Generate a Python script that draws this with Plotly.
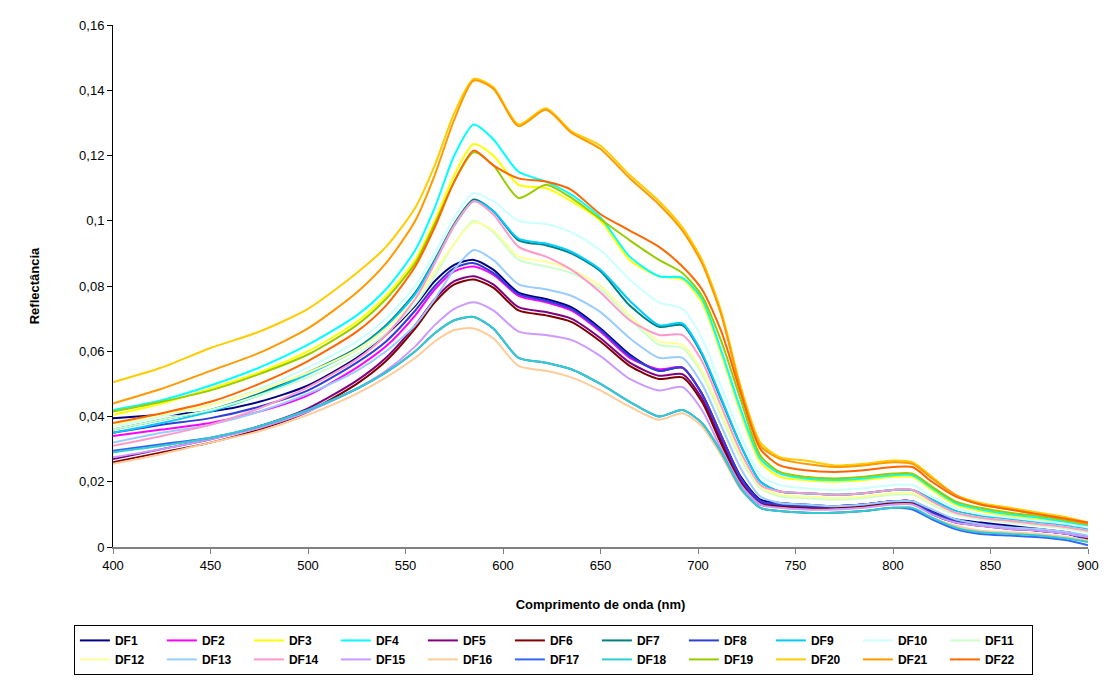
import plotly.graph_objects as go

# Wavelength sampling (nm)
wavelength = [400, 425, 450, 475, 500, 525, 540, 555, 565, 575, 585, 595, 608, 622, 635, 650,
              665, 680, 692, 702, 712, 722, 732, 742, 755, 770, 785, 800, 810, 820, 832, 845,
              860, 875, 890, 900]

# Reflectance spectra per sample
DF1 = [0.0395, 0.0405, 0.0415, 0.0445, 0.0495, 0.058, 0.065, 0.074, 0.0815, 0.0865, 0.088, 0.085, 0.078, 0.076, 0.0735, 0.067, 0.059, 0.054, 0.055, 0.047, 0.034, 0.0215, 0.0145, 0.0135, 0.013, 0.0125, 0.013, 0.014, 0.014, 0.011, 0.0085, 0.0075, 0.0065, 0.0055, 0.0045, 0.003]
DF2 = [0.034, 0.036, 0.038, 0.0415, 0.0465, 0.055, 0.0615, 0.071, 0.079, 0.0845, 0.086, 0.0835, 0.077, 0.075, 0.0725, 0.066, 0.058, 0.0545, 0.055, 0.047, 0.034, 0.021, 0.014, 0.013, 0.0125, 0.0125, 0.013, 0.014, 0.014, 0.0105, 0.008, 0.007, 0.006, 0.005, 0.004, 0.0025]
DF3 = [0.0405, 0.044, 0.0485, 0.0535, 0.060, 0.069, 0.077, 0.088, 0.100, 0.114, 0.1235, 0.120, 0.111, 0.110, 0.106, 0.100, 0.088, 0.083, 0.082, 0.075, 0.059, 0.041, 0.026, 0.0215, 0.0205, 0.020, 0.0205, 0.0215, 0.0215, 0.0175, 0.013, 0.011, 0.0095, 0.0085, 0.007, 0.006]
DF4 = [0.042, 0.045, 0.0495, 0.055, 0.062, 0.071, 0.079, 0.091, 0.104, 0.120, 0.1295, 0.125, 0.115, 0.112, 0.108, 0.101, 0.089, 0.083, 0.0825, 0.076, 0.060, 0.042, 0.027, 0.0225, 0.021, 0.0205, 0.021, 0.022, 0.022, 0.018, 0.0135, 0.0115, 0.010, 0.009, 0.0075, 0.0065]
DF5 = [0.027, 0.030, 0.033, 0.037, 0.0425, 0.051, 0.058, 0.068, 0.076, 0.0815, 0.083, 0.0805, 0.0735, 0.072, 0.070, 0.064, 0.0565, 0.0525, 0.053, 0.0455, 0.0325, 0.020, 0.0135, 0.013, 0.0125, 0.0125, 0.013, 0.014, 0.014, 0.0105, 0.008, 0.007, 0.006, 0.005, 0.004, 0.003]
DF6 = [0.026, 0.029, 0.032, 0.036, 0.0415, 0.050, 0.057, 0.067, 0.075, 0.0805, 0.082, 0.0795, 0.0725, 0.071, 0.069, 0.063, 0.0555, 0.0515, 0.052, 0.0445, 0.0315, 0.0195, 0.013, 0.0125, 0.012, 0.012, 0.0125, 0.0135, 0.0135, 0.010, 0.0075, 0.0065, 0.0055, 0.005, 0.004, 0.0025]
DF7 = [0.036, 0.039, 0.042, 0.047, 0.0535, 0.061, 0.068, 0.078, 0.088, 0.099, 0.1065, 0.103, 0.094, 0.0925, 0.090, 0.0845, 0.074, 0.0675, 0.068, 0.059, 0.045, 0.031, 0.020, 0.017, 0.0165, 0.016, 0.0165, 0.0175, 0.0175, 0.0145, 0.011, 0.0095, 0.0085, 0.0075, 0.0065, 0.0055]
DF8 = [0.035, 0.0375, 0.0395, 0.043, 0.048, 0.0565, 0.063, 0.0725, 0.080, 0.0855, 0.087, 0.084, 0.0775, 0.0755, 0.073, 0.0665, 0.0585, 0.054, 0.055, 0.047, 0.034, 0.021, 0.014, 0.013, 0.0125, 0.0125, 0.013, 0.014, 0.014, 0.0105, 0.008, 0.007, 0.006, 0.005, 0.004, 0.002]
DF9 = [0.035, 0.038, 0.0415, 0.0465, 0.053, 0.0605, 0.0675, 0.0775, 0.0875, 0.0985, 0.106, 0.103, 0.0945, 0.093, 0.0905, 0.085, 0.0755, 0.068, 0.0685, 0.0595, 0.0455, 0.031, 0.020, 0.017, 0.0165, 0.016, 0.0165, 0.0175, 0.0175, 0.0145, 0.011, 0.0095, 0.0085, 0.0075, 0.0065, 0.0055]
DF10 = [0.037, 0.040, 0.0435, 0.0485, 0.055, 0.063, 0.070, 0.080, 0.090, 0.101, 0.1085, 0.106, 0.100, 0.099, 0.0965, 0.091, 0.082, 0.075, 0.073, 0.064, 0.049, 0.034, 0.022, 0.019, 0.018, 0.0175, 0.018, 0.019, 0.019, 0.0155, 0.012, 0.010, 0.009, 0.008, 0.007, 0.006]
DF11 = [0.036, 0.039, 0.042, 0.0465, 0.052, 0.059, 0.0655, 0.0745, 0.083, 0.093, 0.100, 0.0965, 0.088, 0.086, 0.084, 0.079, 0.070, 0.062, 0.061, 0.053, 0.040, 0.027, 0.018, 0.0155, 0.015, 0.0145, 0.015, 0.016, 0.016, 0.013, 0.010, 0.0085, 0.0075, 0.0065, 0.0055, 0.0045]
DF12 = [0.0375, 0.0405, 0.0435, 0.048, 0.0535, 0.0605, 0.067, 0.076, 0.0845, 0.093, 0.0995, 0.097, 0.089, 0.0875, 0.085, 0.080, 0.071, 0.063, 0.062, 0.054, 0.041, 0.028, 0.0185, 0.016, 0.0155, 0.015, 0.0155, 0.0165, 0.0165, 0.0135, 0.0105, 0.009, 0.008, 0.007, 0.006, 0.005]
DF13 = [0.032, 0.035, 0.0375, 0.0415, 0.047, 0.054, 0.060, 0.068, 0.076, 0.085, 0.091, 0.088, 0.0805, 0.079, 0.077, 0.072, 0.064, 0.058, 0.058, 0.050, 0.037, 0.024, 0.0155, 0.0135, 0.013, 0.0125, 0.013, 0.014, 0.014, 0.0115, 0.0085, 0.007, 0.006, 0.0055, 0.0045, 0.0035]
DF14 = [0.031, 0.034, 0.0375, 0.0425, 0.049, 0.0575, 0.065, 0.076, 0.087, 0.0985, 0.106, 0.102, 0.092, 0.089, 0.085, 0.078, 0.0695, 0.065, 0.065, 0.057, 0.043, 0.029, 0.019, 0.017, 0.0165, 0.016, 0.0165, 0.0175, 0.0175, 0.014, 0.0105, 0.009, 0.008, 0.007, 0.006, 0.005]
DF15 = [0.0275, 0.030, 0.033, 0.0365, 0.0415, 0.0485, 0.054, 0.0615, 0.068, 0.073, 0.075, 0.0725, 0.066, 0.065, 0.0635, 0.0585, 0.0515, 0.048, 0.049, 0.042, 0.030, 0.019, 0.013, 0.012, 0.0115, 0.0115, 0.012, 0.013, 0.013, 0.010, 0.0075, 0.0065, 0.0055, 0.005, 0.004, 0.003]
DF16 = [0.0255, 0.0285, 0.032, 0.0355, 0.0405, 0.047, 0.052, 0.058, 0.063, 0.0665, 0.067, 0.064, 0.0555, 0.054, 0.052, 0.048, 0.043, 0.039, 0.041, 0.037, 0.028, 0.0175, 0.012, 0.011, 0.0105, 0.0105, 0.011, 0.012, 0.012, 0.009, 0.0065, 0.005, 0.0045, 0.004, 0.003, 0.002]
DF17 = [0.0295, 0.0315, 0.0335, 0.037, 0.042, 0.0485, 0.0535, 0.060, 0.0655, 0.0695, 0.0705, 0.067, 0.058, 0.0565, 0.0545, 0.050, 0.0445, 0.040, 0.042, 0.038, 0.029, 0.018, 0.012, 0.011, 0.0105, 0.0105, 0.011, 0.012, 0.0115, 0.0085, 0.0055, 0.004, 0.0035, 0.003, 0.002, 0.0005]
DF18 = [0.029, 0.031, 0.0335, 0.037, 0.042, 0.0485, 0.0535, 0.060, 0.0655, 0.0695, 0.0705, 0.067, 0.058, 0.0565, 0.0545, 0.050, 0.0445, 0.040, 0.042, 0.038, 0.029, 0.018, 0.012, 0.011, 0.0105, 0.0105, 0.011, 0.012, 0.012, 0.009, 0.006, 0.0045, 0.004, 0.0035, 0.0025, 0.0015]
DF19 = [0.0415, 0.0445, 0.048, 0.053, 0.059, 0.068, 0.076, 0.087, 0.099, 0.112, 0.121, 0.117, 0.107, 0.111, 0.107, 0.1005, 0.094, 0.088, 0.084, 0.077, 0.063, 0.045, 0.028, 0.023, 0.0215, 0.021, 0.0215, 0.0225, 0.0225, 0.0185, 0.014, 0.012, 0.0105, 0.0095, 0.008, 0.007]
DF20 = [0.0505, 0.055, 0.061, 0.066, 0.073, 0.084, 0.092, 0.104, 0.117, 0.133, 0.1435, 0.141, 0.1295, 0.1345, 0.1275, 0.123, 0.114, 0.106, 0.098, 0.088, 0.072, 0.049, 0.032, 0.0275, 0.0265, 0.025, 0.0255, 0.0265, 0.026, 0.0215, 0.016, 0.0135, 0.012, 0.0105, 0.009, 0.0075]
DF21 = [0.044, 0.0485, 0.054, 0.0595, 0.067, 0.078, 0.087, 0.100, 0.114, 0.131, 0.143, 0.1405, 0.129, 0.134, 0.127, 0.122, 0.113, 0.105, 0.097, 0.087, 0.071, 0.048, 0.031, 0.027, 0.0255, 0.0245, 0.025, 0.026, 0.0255, 0.021, 0.016, 0.013, 0.0115, 0.010, 0.0085, 0.007]
DF22 = [0.038, 0.041, 0.0445, 0.050, 0.057, 0.066, 0.074, 0.086, 0.098, 0.112, 0.1215, 0.117, 0.113, 0.112, 0.1095, 0.102, 0.097, 0.092, 0.086, 0.079, 0.066, 0.047, 0.030, 0.025, 0.0235, 0.023, 0.0235, 0.0245, 0.0245, 0.020, 0.0155, 0.013, 0.0115, 0.010, 0.0085, 0.0075]

series_names = ["DF1", "DF2", "DF3", "DF4", "DF5", "DF6", "DF7", "DF8", "DF9", "DF10", "DF11",
                "DF12", "DF13", "DF14", "DF15", "DF16", "DF17", "DF18", "DF19", "DF20", "DF21", "DF22"]
series_values = [DF1, DF2, DF3, DF4, DF5, DF6, DF7, DF8, DF9, DF10, DF11,
                 DF12, DF13, DF14, DF15, DF16, DF17, DF18, DF19, DF20, DF21, DF22]
series_colors = ["#000080", "#FF00FF", "#FFFF00", "#00FFFF", "#800080", "#800000", "#008080",
                 "#2E3FD8", "#00CCFF", "#CCFFFF", "#CCFFCC", "#FFFF99", "#99CCFF", "#FF99CC",
                 "#CC99FF", "#FFCC99", "#3366FF", "#33CCCC", "#99CC00", "#FFCC00", "#FF9900",
                 "#FF6600"]

x_ticks = [400, 450, 500, 550, 600, 650, 700, 750, 800, 850, 900]
y_ticks = [0, 0.02, 0.04, 0.06, 0.08, 0.10, 0.12, 0.14, 0.16]
y_tick_labels = ["0", "0,02", "0,04", "0,06", "0,08", "0,1", "0,12", "0,14", "0,16"]

fig = go.Figure()
for name, vals, color in zip(series_names, series_values, series_colors):
    fig.add_trace(go.Scatter(
        x=wavelength, y=vals, mode="lines", name=name,
        line=dict(color=color, width=2, shape="spline", smoothing=0.7),
    ))

font_family = "Liberation Sans, Arial, sans-serif"
fig.update_layout(
    width=1109, height=680,
    margin=dict(l=113, r=21, t=25, b=133, autoexpand=False),
    paper_bgcolor="white", plot_bgcolor="white",
    font=dict(family=font_family, size=13, color="black"),
    showlegend=True,
    legend=dict(
        orientation="h", xref="container", yref="container",
        x=0.499, xanchor="center", y=0.081, yanchor="top",
        bordercolor="black", borderwidth=1, bgcolor="white",
        entrywidth=42, entrywidthmode="pixels",
        font=dict(family=font_family, size=12, color="black", weight="bold"),
        tracegroupgap=0,
    ),
    xaxis=dict(
        range=[400, 900], tickvals=x_ticks, ticks="outside", ticklen=5,
        tickcolor="#808080", showline=True, linecolor="#808080", linewidth=2,
        showgrid=False, zeroline=False,
        tickfont=dict(size=13),
        title=dict(text="Comprimento de onda (nm)", standoff=28,
                   font=dict(size=13, weight="bold")),
    ),
    yaxis=dict(
        range=[0, 0.16], tickvals=y_ticks, ticktext=y_tick_labels, ticks="outside",
        ticklen=5, tickcolor="black", showline=True, linecolor="black", linewidth=1,
        showgrid=False, zeroline=False,
        tickfont=dict(size=13),
        title=dict(text="Reflectância", standoff=36,
                   font=dict(size=13, weight="bold")),
    ),
)

fig.write_html("out.html")
